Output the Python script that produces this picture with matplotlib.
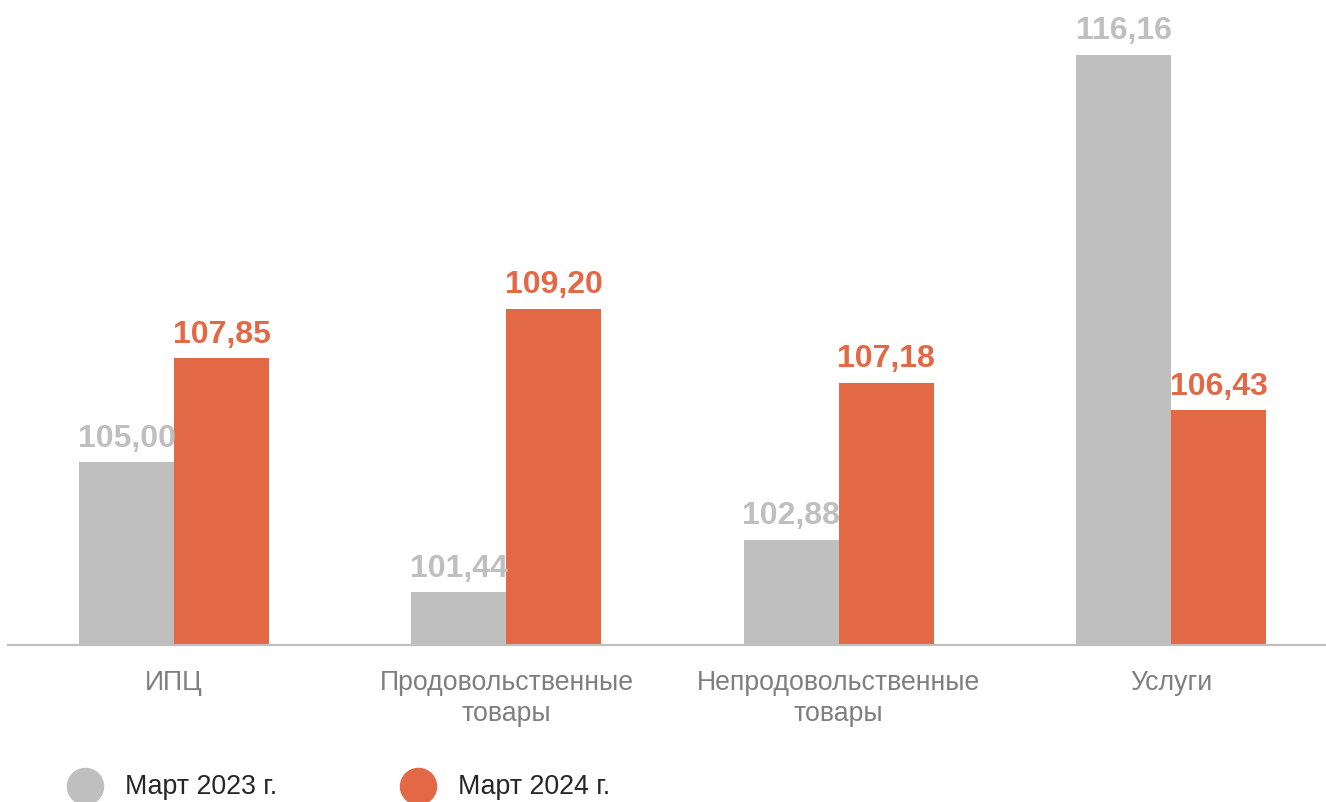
import matplotlib
matplotlib.use("Agg")
import matplotlib.pyplot as plt
from matplotlib.lines import Line2D

# ── Data ──────────────────────────────────────────────────────────────────────
categories = ["ИПЦ", "Продовольственные\nтовары", "Непродовольственные\nтовары", "Услуги"]
series_names = ["Март 2023 г.", "Март 2024 г."]
mar_2023 = [105.00, 101.44, 102.88, 116.16]
mar_2024 = [107.85, 109.20, 107.18, 106.43]
base = 100.0

GRAY = "#BFBFBF"
ORANGE = "#E36845"

plt.rcParams["font.family"] = ["Liberation Sans", "DejaVu Sans"]

fig = plt.figure(figsize=(13.26, 8.03), dpi=100)
ax = fig.add_axes([8 / 1326, 1 - 646 / 803, 1 - 8 / 1326, 646 / 803])

width = 0.286
x = list(range(len(categories)))
for vals, color, shift in [(mar_2023, GRAY, -width / 2), (mar_2024, ORANGE, width / 2)]:
    xs = [i + shift for i in x]
    heights = [v - base for v in vals]
    ax.bar(xs, heights, width=width, bottom=base, color=color, linewidth=0)
    for xi, v in zip(xs, vals):
        ax.annotate(f"{v:.2f}".replace(".", ","), xy=(xi, v), xytext=(0, 7),
                    textcoords="offset points", ha="center", va="bottom",
                    fontsize=23, fontweight="bold", color=color)

ax.set_xlim(-0.5, -0.5 + 1318 / 332.3)
ax.set_ylim(base, base + 646 / 36.5)

for s in ["top", "right", "left"]:
    ax.spines[s].set_visible(False)
ax.spines["bottom"].set_color("#BFBFBF")
ax.spines["bottom"].set_linewidth(1.6)
ax.set_yticks([])
ax.set_xticks(x)
ax.set_xticklabels(categories, fontsize=19.2, color="#7F7F7F", linespacing=1.25)
ax.tick_params(axis="x", length=0, pad=17)

# ── Legend (manual) ───────────────────────────────────────────────────────────
for name, color, mx, tx in [(series_names[0], GRAY, 85, 125), (series_names[1], ORANGE, 418, 458)]:
    fig.add_artist(Line2D([mx / 1326], [1 - 787 / 803], transform=fig.transFigure,
                          marker="o", markersize=26, color=color, linestyle="none"))
    fig.text(tx / 1326, 1 - 787 / 803, name, fontsize=19.3, color="#262626",
             ha="left", va="center")

fig.savefig("out.png", dpi=100)
